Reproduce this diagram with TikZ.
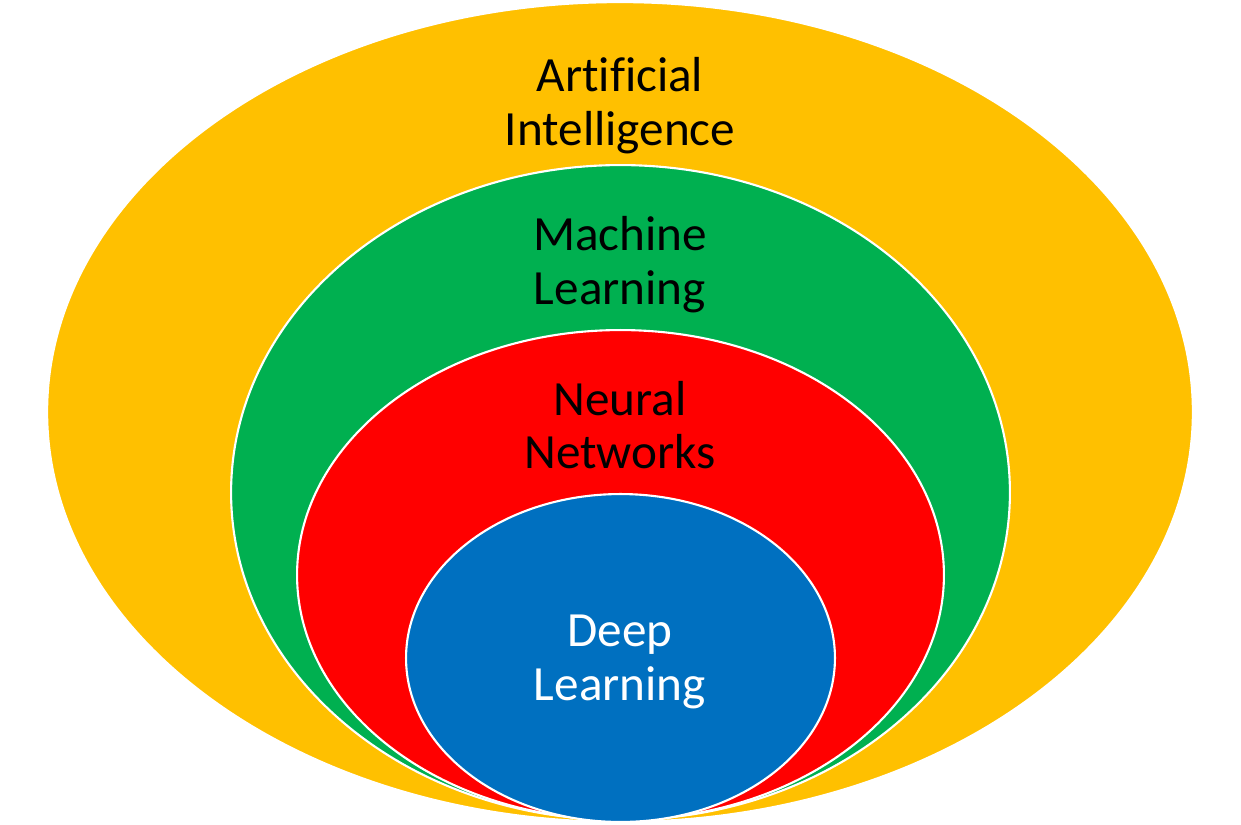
\documentclass[tikz,border=0pt]{standalone}
\usepackage{fontspec}
\setmainfont[Ligatures=NoCommon]{Carlito}
\usetikzlibrary{shapes.geometric}
\definecolor{aiyellow}{HTML}{FFC000}
\definecolor{mlgreen}{HTML}{00B050}
\definecolor{nnred}{HTML}{FF0000}
\definecolor{dlblue}{HTML}{0070C0}
\begin{document}
\begin{tikzpicture}[x=0.02cm,y=-0.02cm,
  ring/.style={ellipse, draw=white, line width=1.2pt, inner sep=0pt},
  label/.style={align=center, font=\fontsize{28}{30.6}\selectfont, inner sep=0pt}]
\useasboundingbox (0,0) rectangle (1241,825);
\fill[white] (0,0) rectangle (1241,825);
\node[ring, fill=aiyellow, minimum width=22.92cm, minimum height=16.4cm] (ai) at (620,412) {};
\node[ring, fill=mlgreen, minimum width=15.58cm, minimum height=13.1cm] (ml) at (620.5,492.5) {};
\node[ring, fill=nnred, minimum width=12.94cm, minimum height=9.8cm] (nn) at (620.5,575) {};
\node[ring, fill=dlblue, minimum width=8.58cm, minimum height=6.56cm] (dl) at (620.5,658) {};
\node[label, text=black] (tai) at (620,106) {Artificial\\Intelligence};
\node[label, text=black] (tml) at (620,265) {Machine\\Learning};
\node[label, text=black] (tnn) at (620,425) {Neural\\Networks};
\node[label, text=white] (tdl) at (620,662) {Deep\\Learning};
\end{tikzpicture}
\end{document}
